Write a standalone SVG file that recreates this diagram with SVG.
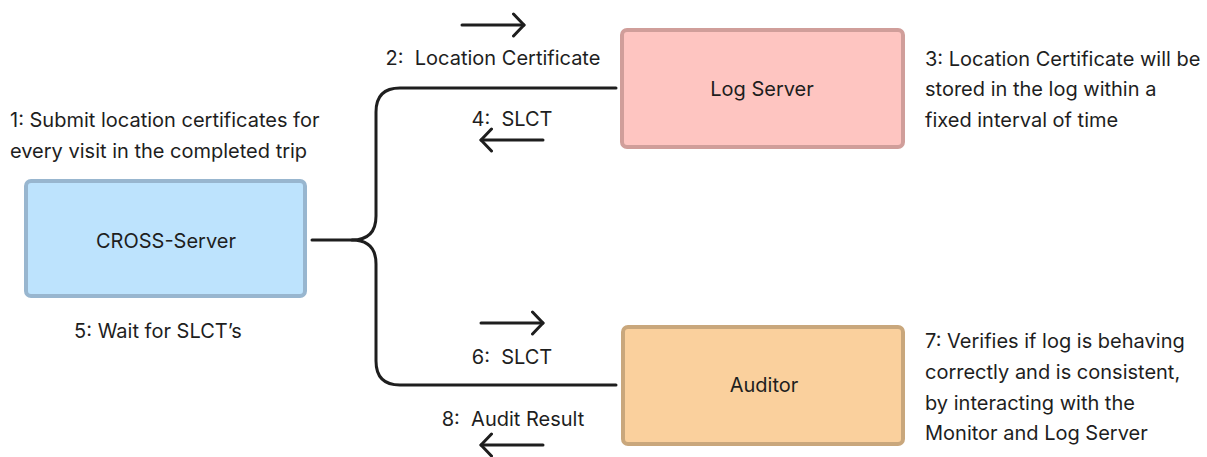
<svg xmlns="http://www.w3.org/2000/svg" width="1207" height="457" viewBox="0 0 1207 457">
  <style>
    text { font-family: Inter, "Noto Sans", "Liberation Sans", sans-serif; font-size: 20px; fill: #1e1e1e; }
    .mid { text-anchor: middle; }
    .box { stroke-width: 4; }
    .line { fill: none; stroke: #1e1e1e; stroke-width: 3; stroke-linecap: round; stroke-linejoin: round; }
  </style>
  <defs>
    <!-- open chevron arrowhead shared by all message arrows -->
    <marker id="head" viewBox="0 0 14 26" refX="12" refY="13" markerWidth="14" markerHeight="26" markerUnits="userSpaceOnUse" orient="auto">
      <path d="M1.5,2 L12,13 L1.5,24" fill="none" stroke="#1e1e1e" stroke-width="3" stroke-linecap="round" stroke-linejoin="round"/>
    </marker>
  </defs>
  <rect width="1207" height="457" fill="#ffffff"/>

  <g id="connectors">
    <path class="line" d="M312,240 H352 Q376,240 376,216 V112 Q376,88 400,88 H616"/>
    <path class="line" d="M352,240 Q376,240 376,264 V361 Q376,385 400,385 H616"/>
    <line class="line" x1="462" y1="25" x2="524" y2="25" marker-end="url(#head)"/>
    <line class="line" x1="543" y1="140" x2="481" y2="140" marker-end="url(#head)"/>
    <line class="line" x1="481" y1="323" x2="543" y2="323" marker-end="url(#head)"/>
    <line class="line" x1="543" y1="445" x2="481" y2="445" marker-end="url(#head)"/>
    <text class="mid" x="493" y="65" xml:space="preserve">2:  Location Certificate</text>
    <text class="mid" x="512" y="126" xml:space="preserve">4:  SLCT</text>
    <text class="mid" x="512" y="364" xml:space="preserve">6:  SLCT</text>
    <text class="mid" x="513" y="426" xml:space="preserve">8:  Audit Result</text>
  </g>

  <g id="cross-server">
    <rect class="box" x="26" y="181" width="279" height="115" rx="5" fill="#bde3fd" stroke="#98b6cf"/>
    <text class="mid" x="166" y="248">CROSS-Server</text>
  </g>

  <g id="log-server">
    <rect class="box" x="622" y="30" width="281" height="117" rx="5" fill="#fec5c1" stroke="#d09e9a"/>
    <text class="mid" x="762" y="96">Log Server</text>
  </g>

  <g id="auditor">
    <rect class="box" x="623" y="327" width="280" height="117" rx="5" fill="#fad09d" stroke="#c9a77c"/>
    <text class="mid" x="764" y="392">Auditor</text>
  </g>

  <g id="notes">
    <text x="10" y="127">1: Submit location certificates for</text>
    <text x="10" y="158">every visit in the completed trip</text>
    <text class="mid" x="158" y="338">5: Wait for SLCT’s</text>
    <text x="925" y="66">3: Location Certificate will be</text>
    <text x="925" y="96">stored in the log within a</text>
    <text x="925" y="127">fixed interval of time</text>
    <text x="925" y="348">7: Verifies if log is behaving</text>
    <text x="925" y="379">correctly and is consistent,</text>
    <text x="925" y="410">by interacting with the</text>
    <text x="925" y="440">Monitor and Log Server</text>
  </g>
</svg>
